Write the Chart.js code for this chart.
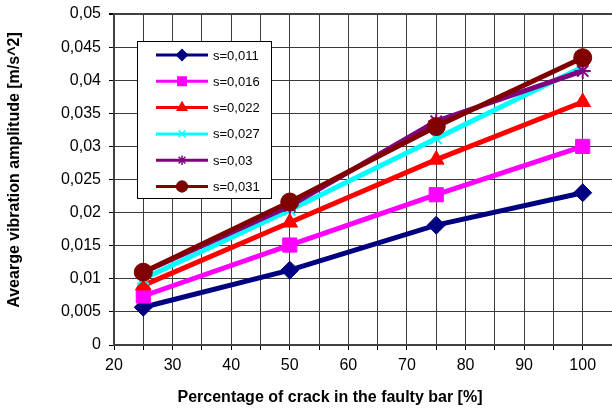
<!DOCTYPE html>
<html lang="en">
<head>
<meta charset="utf-8"/>
<title>Average vibration amplitude</title>
<style>
  body { margin: 0; background: #fff; }
  #wrap { width: 612px; height: 414px; }
</style>
</head>
<body>
<div id="wrap"><canvas id="chart" width="612" height="414"></canvas></div>
<script src="https://cdn.jsdelivr.net/npm/chart.js"></script>
<script>
  // crack percentage on x, amplitude on y
  const crackPct = [25, 50, 75, 100];
  const seriesNames = ['s=0,011', 's=0,016', 's=0,022', 's=0,027', 's=0,03', 's=0,031'];
  const s011 = [0.0057, 0.0113, 0.0181, 0.0230];
  const s016 = [0.0074, 0.0151, 0.0227, 0.0300];
  const s022 = [0.0090, 0.0185, 0.0280, 0.0367];
  const s027 = [0.0100, 0.0204, 0.0312, 0.0420];
  const s030 = [0.0110, 0.0210, 0.0338, 0.0414];
  const s031 = [0.0110, 0.0216, 0.0330, 0.0434];
  const seriesValues = [s011, s016, s022, s027, s030, s031];

  const colors = ['#000080', '#ff00ff', '#ff0000', '#00ffff', '#800080', '#800000'];
  const markers = ['rectRot', 'rect', 'triangle', 'crossRot', 'star', 'circle'];
  const radii = [9, 10, 9, 8, 8, 9];

  Chart.defaults.font.family = 'Arial, "Liberation Sans", sans-serif';
  Chart.defaults.color = '#000';

  const datasets = seriesNames.map((name, i) => ({
    label: name,
    data: crackPct.map((x, j) => ({ x: x, y: seriesValues[i][j] })),
    borderColor: colors[i],
    backgroundColor: colors[i],
    borderWidth: 5,
    pointStyle: markers[i],
    pointRadius: radii[i],
    pointBorderWidth: (markers[i] === 'crossRot' || markers[i] === 'star') ? 2 : 1,
    pointBorderColor: colors[i],
    pointBackgroundColor: colors[i],
    order: seriesNames.length - i,
    tension: 0
  }));

  // legend box inside the plot + axis titles
  const extras = {
    id: 'extras',
    afterDraw(chart) {
      const ctx = chart.ctx;
      ctx.save();
      // legend
      ctx.fillStyle = '#fff';
      ctx.fillRect(137.5, 41.5, 134, 157);
      ctx.strokeStyle = '#000';
      ctx.lineWidth = 1;
      ctx.strokeRect(137.5, 41.5, 134, 157);
      ctx.font = '13px Arial, "Liberation Sans", sans-serif';
      ctx.textBaseline = 'middle';
      seriesNames.forEach((name, i) => {
        const y = 55 + i * 26.3;
        ctx.strokeStyle = colors[i];
        ctx.lineWidth = 3;
        ctx.beginPath();
        ctx.moveTo(156, y);
        ctx.lineTo(208, y);
        ctx.stroke();
        ctx.fillStyle = colors[i];
        ctx.lineWidth = 1.5;
        Chart.helpers.drawPoint(ctx, { pointStyle: markers[i], radius: radii[i] * 0.6, borderWidth: 1.5 }, 182, y);
        ctx.fillStyle = '#000';
        ctx.textAlign = 'left';
        ctx.fillText(name, 213, y + 1);
      });
      // axis titles
      ctx.fillStyle = '#000';
      ctx.font = 'bold 16px Arial, "Liberation Sans", sans-serif';
      ctx.textAlign = 'center';
      ctx.textBaseline = 'middle';
      ctx.fillText('Percentage of crack in the faulty bar [%]', 330, 398);
      ctx.translate(15, 170);
      ctx.rotate(-Math.PI / 2);
      ctx.fillText('Avearge vibration amplitude [m/s^2]', 0, 0);
      ctx.restore();
    }
  };

  new Chart(document.getElementById('chart'), {
    type: 'line',
    data: { datasets: datasets },
    options: {
      responsive: false,
      animation: false,
      layout: { autoPadding: false, padding: { top: 14, left: 0, right: 0, bottom: 0 } },
      plugins: { legend: { display: false }, tooltip: { enabled: false } },
      scales: {
        x: {
          type: 'linear',
          min: 20,
          max: 105,
          afterFit: (scale) => { scale.height = 69; scale.paddingRight = 0; },
          border: { color: '#404040', width: 2 },
          grid: {
            color: (c) => c.tick && c.tick.value >= 105 ? 'rgba(0,0,0,0)' : '#3a3a3a',
            lineWidth: 1,
            tickLength: 5,
            tickColor: '#000'
          },
          ticks: {
            stepSize: 5,
            autoSkip: false,
            maxRotation: 0,
            padding: 6,
            font: { size: 16 },
            callback: (v) => (v % 10 === 0 && v <= 100) ? String(v) : ''
          }
        },
        y: {
          min: 0,
          max: 0.05,
          afterFit: (scale) => { scale.width = 114; scale.paddingTop = 0; scale.paddingBottom = 0; },
          border: { color: '#404040', width: 2 },
          grid: {
            color: (c) => c.tick && c.tick.value >= 0.05 ? '#404040' : '#3a3a3a',
            lineWidth: (c) => c.tick && c.tick.value >= 0.05 ? 2 : 1,
            tickLength: 5,
            tickColor: '#000'
          },
          ticks: {
            stepSize: 0.005,
            padding: 8,
            font: { size: 16 },
            callback: (v) => String(Math.round(v * 1000) / 1000).replace('.', ',')
          }
        }
      }
    },
    plugins: [extras]
  });
</script>
</body>
</html>
